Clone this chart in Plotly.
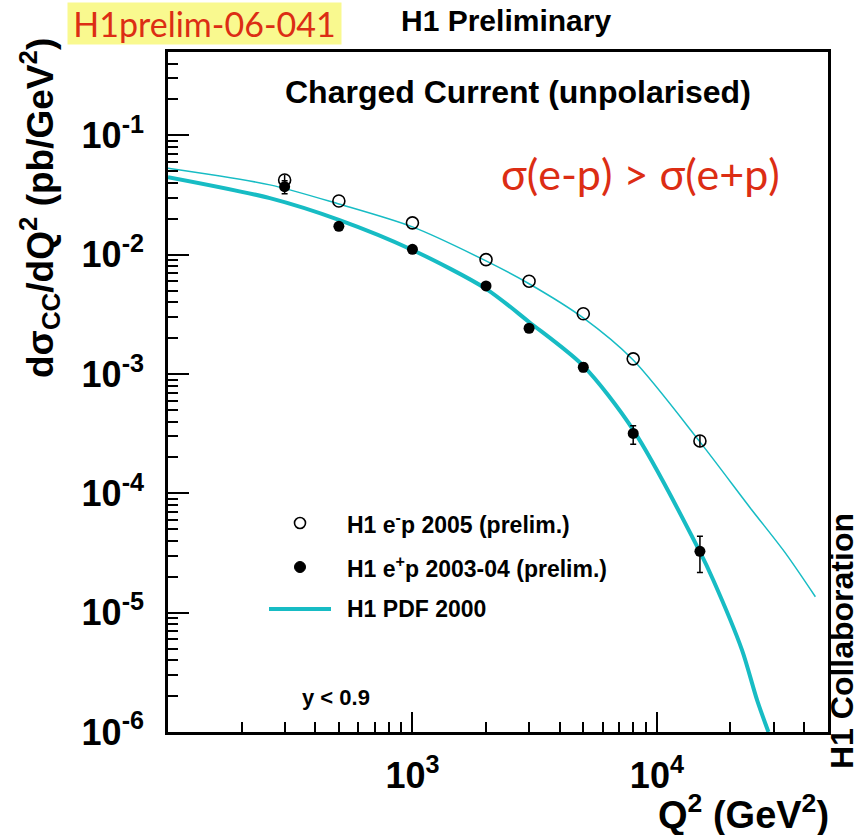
import plotly.graph_objects as go

# ---------------- data ----------------
q2_points = [300, 500, 1000, 2000, 3000, 5000, 8000, 15000]

em_p_2005 = [0.0423, 0.0282, 0.0185, 0.0091, 0.0060, 0.0032, 0.00134, 0.000275]
em_p_err = [0.0044, None, None, None, None, None, None, 0.000032]

ep_p_0304 = [0.0372, 0.0173, 0.0111, 0.00548, 0.00242, 0.00114, 0.000318, 3.27e-5]
ep_p_err_plus = [0.0045, 0.0011, 0.0006, 0.0003, 0.00014, 0.00009, 0.00005, 1.1e-5]
ep_p_err_minus = [0.0048, 0.0011, 0.0006, 0.0003, 0.00014, 0.00009, 0.00006, 1.1e-5]

curve_em_q2 = [100, 261, 500, 1000, 2000, 3000, 5000, 8000, 15000, 24100, 33400, 44500]
curve_em_val = [0.0531, 0.0385, 0.0266, 0.0171, 0.00887, 0.00571, 0.00295, 0.00131,
                0.000270, 7.55e-5, 3.2e-5, 1.36e-5]

curve_ep_q2 = [100, 261, 500, 1000, 2000, 3000, 5000, 8000, 15000, 17000, 22300, 25700, 28600]
curve_ep_val = [0.0447, 0.0298, 0.0196, 0.01096, 0.00518, 0.00273, 0.00117, 0.00034,
                3.23e-5, 1.88e-5, 4.86e-6, 1.85e-6, 1.0e-6]

ytick_vals = [1e-6, 1e-5, 1e-4, 1e-3, 1e-2, 1e-1]
ytick_text = ["10<sup>-6</sup>", "10<sup>-5</sup>", "10<sup>-4</sup>",
              "10<sup>-3</sup>", "10<sup>-2</sup>", "10<sup>-1</sup>"]
xtick_vals = [1e3, 1e4]
xtick_text = ["10<sup>3</sup>", "10<sup>4</sup>"]

legend_labels = ["H1 e<sup>-</sup>p 2005 (prelim.)",
                 "H1 e<sup>+</sup>p 2003-04 (prelim.)",
                 "H1 PDF 2000"]

# minor tick positions (2..9 of each decade)
y_minor = [m * 10.0 ** e for e in range(-6, 0) for m in range(2, 10)]
x_minor = [m * 10.0 ** e for e in range(2, 5) for m in range(2, 10)]

CYAN = "#17bcc4"
RED = "#dc2d14"
HELV = "Liberation Sans"

# ---------------- layout geometry ----------------
W, H = 858, 835
L, R, T, B = 168, 30, 52, 103
PW, PH = W - L - R, H - T - B


def px(x):
    return (x - L) / PW


def py(y):
    return (H - B - y) / PH


fig = go.Figure()

# model curves
fig.add_trace(go.Scatter(x=curve_em_q2, y=curve_em_val, mode="lines",
                         line=dict(color=CYAN, width=1.5, shape="spline", smoothing=0.8),
                         showlegend=False, hoverinfo="skip"))
fig.add_trace(go.Scatter(x=curve_ep_q2, y=curve_ep_val, mode="lines",
                         line=dict(color=CYAN, width=4, shape="spline", smoothing=0.8),
                         showlegend=False, hoverinfo="skip"))

# data points
fig.add_trace(go.Scatter(x=q2_points, y=ep_p_0304, mode="markers",
                         marker=dict(symbol="circle", size=11, color="black"),
                         error_y=dict(type="data", array=ep_p_err_plus,
                                      arrayminus=ep_p_err_minus, symmetric=False,
                                      color="black", thickness=1.5, width=3),
                         showlegend=False))
fig.add_trace(go.Scatter(x=q2_points, y=em_p_2005, mode="markers",
                         marker=dict(symbol="circle-open", size=12,
                                     color="black", line=dict(width=1.6, color="black")),
                         error_y=dict(type="data", array=em_p_err,
                                      color="black", thickness=1.5, width=0),
                         showlegend=False))

axis_common = dict(type="log", showgrid=False, zeroline=False,
                   showline=True, linecolor="black", linewidth=2.5, mirror=True,
                   ticks="inside", tickcolor="black", tickwidth=2,
                   tickfont=dict(family=HELV, size=36, color="black", weight="bold"))

fig.update_layout(
    width=W, height=H,
    margin=dict(l=L, r=R, t=T, b=B),
    paper_bgcolor="white", plot_bgcolor="white",
    showlegend=False,
    xaxis=dict(range=[2, 4.7], tickmode="array", tickvals=xtick_vals, ticktext=xtick_text,
               ticklen=20, ticklabelstandoff=10,
               minor=dict(tickmode="array", tickvals=x_minor, ticks="inside",
                          ticklen=10, tickwidth=1.5, tickcolor="black", showgrid=False),
               **axis_common),
    yaxis=dict(range=[-6, -0.30103], tickmode="array", tickvals=ytick_vals, ticktext=ytick_text,
               ticklen=21, ticklabelstandoff=14,
               minor=dict(tickmode="array", tickvals=y_minor, ticks="inside",
                          ticklen=10, tickwidth=2, tickcolor="black", showgrid=False),
               **axis_common),
)

ann = []
# top-left yellow tag
ann.append(dict(text="H1prelim-06-041", x=px(204.5), y=py(23.5), xref="paper", yref="paper",
                xanchor="center", yanchor="middle", showarrow=False,
                bgcolor="#f9f98f", width=273, height=41, borderpad=0,
                font=dict(family="Lato", size=34, color=RED)))
ann.append(dict(text="H1 Preliminary", x=px(506), y=py(21), xref="paper", yref="paper",
                xanchor="center", yanchor="middle", showarrow=False,
                font=dict(family=HELV, size=30, color="black", weight="bold")))
ann.append(dict(text="Charged Current (unpolarised)", x=px(518), y=py(92),
                xref="paper", yref="paper", xanchor="center", yanchor="middle",
                showarrow=False,
                font=dict(family=HELV, size=32, color="black", weight="bold")))
ann.append(dict(text="σ(e-p) &gt; σ(e+p)", x=px(640), y=py(173),
                xref="paper", yref="paper", xanchor="center", yanchor="middle",
                showarrow=False, font=dict(family="Lato", size=43, color=RED)))
# legend texts
for lab, yy in zip(legend_labels, [523, 567, 609]):
    ann.append(dict(text=lab, x=px(345), y=py(yy), xref="paper", yref="paper",
                    xanchor="left", yanchor="middle", showarrow=False,
                    font=dict(family=HELV, size=23, color="black", weight="bold")))
ann.append(dict(text="y &lt; 0.9", x=px(300), y=py(697), xref="paper", yref="paper",
                xanchor="left", yanchor="middle", showarrow=False,
                font=dict(family=HELV, size=22, color="black", weight="bold")))
ann.append(dict(text="H1 Collaboration", x=px(842), y=py(641), xref="paper", yref="paper",
                xanchor="center", yanchor="middle", showarrow=False, textangle=-90,
                font=dict(family=HELV, size=32, color="black", weight="bold")))
ann.append(dict(text="dσ<sub>CC</sub>/dQ<sup>2</sup> (pb/GeV<sup>2</sup>)",
                x=px(40), y=py(208), xref="paper", yref="paper",
                xanchor="center", yanchor="middle", showarrow=False, textangle=-90,
                font=dict(family=HELV, size=37, color="black", weight="bold")))
ann.append(dict(text="Q<sup>2</sup> (GeV<sup>2</sup>)", x=px(831), y=py(812),
                xref="paper", yref="paper", xanchor="right", yanchor="middle",
                showarrow=False,
                font=dict(family=HELV, size=38, color="black", weight="bold")))
fig.update_layout(annotations=ann)

# legend keys
r = 5.5
fig.add_shape(type="circle", xref="paper", yref="paper",
              x0=px(300 - r), x1=px(300 + r), y0=py(523 + r), y1=py(523 - r),
              line=dict(color="black", width=1.6), fillcolor="white")
fig.add_shape(type="circle", xref="paper", yref="paper",
              x0=px(300 - r), x1=px(300 + r), y0=py(567 + r), y1=py(567 - r),
              line=dict(color="black", width=1), fillcolor="black")
fig.add_shape(type="line", xref="paper", yref="paper",
              x0=px(269), x1=px(331), y0=py(609), y1=py(609),
              line=dict(color=CYAN, width=4))

fig.write_html("out.html")
